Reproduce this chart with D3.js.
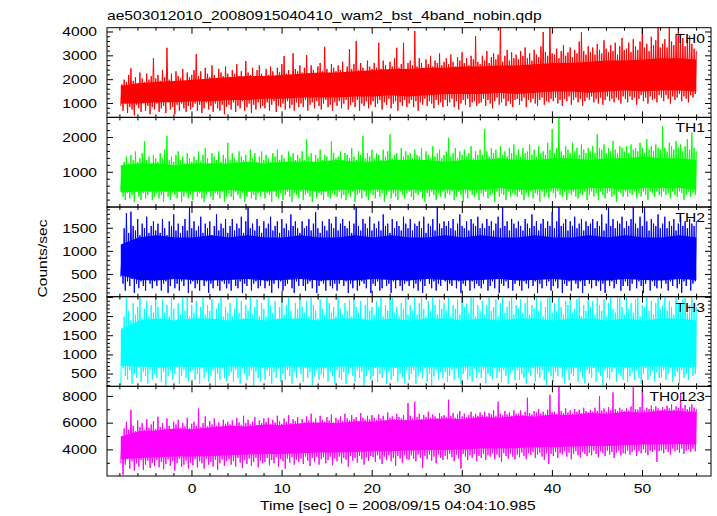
<!DOCTYPE html>
<html><head><meta charset="utf-8">
<script src="https://cdn.jsdelivr.net/npm/d3@7"></script>
<style>
body{margin:0;background:#fff}
svg{display:block}
text{font-family:"Liberation Sans",Arial,Helvetica,sans-serif;font-size:12.5px;fill:#000}
</style>
</head><body>
<svg id="chart" width="717" height="516"></svg>
<script>
// ---------------- data ----------------
const title = "ae503012010_20080915040410_wam2_bst_4band_nobin.qdp";
const xLabel = "Time [sec] 0 = 2008/09/15 04:04:10.985";
const yLabel = "Counts/sec";
const seriesNames = ["TH0", "TH1", "TH2", "TH3", "TH0123"];
const seriesColors = ["#ff0000", "#00ff00", "#0000ff", "#00ffff", "#ff00ff"];

const xDomain = [-9.43, 57.6];
const xMajorTicks = [0, 10, 20, 30, 40, 50];
const xMinorStep = 2;

const yDomains = [[420, 4180], [0, 2580], [18, 1960], [180, 2518], [2050, 8750]];
const yMajorTicks = [[1000, 2000, 3000, 4000], [1000, 2000], [500, 1000, 1500], [500, 1000, 1500, 2000, 2500], [4000, 6000, 8000]];
const yMinorSteps = [200, 200, 100, 100, 1000];

// quarter-second bins: bin i starts at binStart + i*binStep; lowest and highest rate in each bin
const binStart = -7.9, binStep = 0.25;
// densely filled middle of each light curve, read every 2 s
const coreStart = -7.9, coreStep = 2;

const th0Hi = [
 1800,2000,1900,2200,2480,1950,2100,1850,2300,2050,1900,2250,2000,2150,2900,2050,
 2200,1950,2400,2100,3340,2000,2250,1900,2350,2150,2050,2450,1950,2300,2100,2200,
 2400,3070,2150,2350,2000,2500,2250,2100,2600,2200,2050,2450,2300,2150,2550,2250,
 2100,2400,2250,2650,2150,2350,2050,2780,2300,2200,2500,2100,2400,2600,2250,2150,
 2450,2200,2550,2350,2150,2500,2300,2650,2990,2250,2400,2200,3110,2450,2350,2600,
 2300,2500,3030,2250,2600,2400,2200,2550,2700,2350,3380,2450,2250,2650,2500,2350,
 2600,2400,2750,2300,2550,3280,2450,2650,3620,2400,2700,2500,2350,2800,2550,2450,
 2700,2500,3550,2450,2800,2600,2400,2750,2550,2900,3340,2500,2650,3550,2450,2700,
 2800,2600,4040,2550,2900,2700,2450,2850,2650,3000,2550,2800,2700,3100,2600,2750,
 2900,2650,3050,2750,2550,2950,2800,3150,2700,2900,2600,3000,2850,3830,2750,2650,
 3000,2800,3200,2700,2950,3100,2850,3050,4300,2750,3000,3250,2800,3150,2900,3050,
 2850,3200,3000,3350,2900,3100,2800,3250,3050,2950,3400,4000,3150,3000,4300,3100,
 3050,3300,2900,3200,3450,3000,3150,3350,2950,3250,3100,3600,4000,3200,3050,3400,
 3150,3350,3050,3500,3250,3100,3650,3300,3150,3450,3200,3550,3050,3400,3750,3250,
 3300,3550,3150,3700,3400,3250,3600,4300,3350,3500,3200,3800,3450,3650,4300,3350,
 3500,3700,3350,4300,3600,3450,3900,4300,3550,3750,3400,3650,3850,3500,3300,3200];
const th0Lo = [
 900,700,1000,600,850,750,500,950,800,650,1050,700,900,550,850,750,
 1000,650,800,900,600,1050,750,850,550,950,700,1000,800,650,900,750,
 850,1000,700,950,600,800,1050,750,900,650,1000,800,700,950,550,850,
 950,750,1050,650,900,800,1100,700,850,1000,600,950,750,1050,800,900,
 800,1050,700,950,1100,650,900,850,1000,750,1100,800,950,700,1050,850,
 1000,850,1150,700,950,1050,800,1100,900,750,1000,1150,850,950,700,1050,
 900,1100,800,1000,1150,750,950,1050,850,1150,700,1000,900,1100,800,950,
 1100,850,1000,1150,750,1050,950,1200,800,1000,1100,700,1050,900,1150,850,
 1000,1150,850,1100,700,1050,950,1200,900,1100,1000,800,1150,950,1050,850,
 1150,900,1050,1200,850,1100,750,1000,1150,950,1200,850,1050,1100,900,1000,
 1050,1200,900,1150,1000,800,1100,1250,950,1050,1200,900,1100,1000,850,1150,
 1200,950,1100,1250,850,1150,1050,1200,1000,900,1150,1250,950,1100,1050,1200,
 1100,1250,1000,1150,900,1200,1100,1300,950,1150,1250,1050,1200,900,1100,1250,
 1150,1300,1050,1200,1000,1250,950,1150,1300,1100,1200,1050,1250,1150,1000,1300,
 1200,1050,1300,1150,1250,950,1200,1350,1100,1250,1000,1300,1150,1200,1050,1350,
 1250,1100,1350,1200,1000,1300,1150,1250,1400,1100,1300,1200,1050,1350,1250,1400];
const th0CoreHi = [1750,1850,1900,1950,2000,2050,2100,2150,2150,2200,2250,2300,2300,2350,2400,2450,2450,2500,2500,2550,2550,2600,2600,2650,2700,2700,2750,2800,2800,2850,2900,2900,2850];
const th0CoreLo = [1000,1000,1050,1050,1100,1100,1150,1150,1200,1200,1250,1250,1250,1300,1300,1350,1300,1350,1400,1400,1400,1450,1400,1450,1500,1500,1450,1500,1550,1500,1550,1550,1500];

const th1Hi = [
 1100,1300,1450,1250,1500,1350,1600,1300,1400,1550,1890,1350,1450,1250,1500,1400,
 1300,1550,1400,1650,2040,1350,1450,1300,1500,1600,1350,1450,1250,1550,1400,1300,
 1450,1350,1600,1300,1500,1700,1400,1250,1550,1450,1350,1600,1300,1500,1400,1850,
 1350,1550,1400,1300,1600,1450,1350,1500,1250,1650,1400,1550,1300,1450,1600,1350,
 1500,1400,1300,1550,1450,1650,1350,1500,1400,1300,1600,1450,1550,1350,1500,1400,
 1600,1350,1950,1450,1550,1300,1500,1400,1650,1350,1500,1450,1300,1890,1550,1400,
 1450,1600,1350,1550,1500,1400,1700,1450,1350,1600,1500,2040,1400,1550,1450,1650,
 1400,1550,1500,1350,1650,1450,1600,2090,1400,1500,1550,1350,1700,1450,1600,1500,
 1550,1400,1650,1500,1450,1700,1350,1600,1500,1400,1750,1450,1550,1650,1400,1500,
 1600,1990,1450,1550,1700,1400,1600,1500,1650,1450,1550,1750,1400,1600,1500,1650,
 1500,2240,1600,1450,1700,1550,1650,1400,1750,1500,1600,1450,1700,1550,1800,1500,
 1650,1450,1700,1550,1600,1800,1500,1650,1450,1750,1550,1600,1500,1850,1650,2240,
 1550,1700,2560,1600,1500,1750,1650,1550,1850,1600,1700,1500,1800,1650,1550,1700,
 1600,1750,1550,2090,1700,1650,1800,1550,1700,1600,1900,1650,1550,1750,1700,1600,
 1750,1550,1800,1650,1700,1600,1850,1700,1550,1950,1650,1750,1600,1800,1700,1650,
 2330,1700,1600,1850,1750,1650,1900,1700,1800,1600,1750,1950,1650,2140,1700,1600];
const th1Lo = [
 450,300,200,400,250,350,150,450,300,200,400,250,350,450,200,300,
 400,250,350,150,450,300,200,400,350,250,450,150,300,400,250,350,
 200,450,300,400,250,150,350,450,300,200,400,350,250,450,150,300,
 400,300,200,450,350,250,400,150,300,450,250,350,200,400,300,450,
 250,400,350,150,450,300,250,400,200,350,450,300,150,400,350,250,
 450,200,350,400,300,150,450,250,400,350,200,450,300,250,400,350,
 300,450,250,350,200,400,300,450,150,350,400,250,450,300,200,400,
 350,250,450,300,400,150,350,450,250,400,300,200,450,350,250,400,
 450,300,200,400,350,450,250,150,400,300,450,350,200,400,300,450,
 250,400,350,450,200,300,450,350,150,400,250,450,350,300,400,200,
 400,300,450,250,350,400,150,450,300,400,350,200,450,300,400,350,
 300,450,350,200,400,300,450,250,400,350,150,450,300,400,250,450,
 400,250,450,350,300,450,200,400,350,450,300,250,400,350,450,200,
 350,450,300,400,200,450,350,250,400,450,300,350,150,450,400,300,
 450,300,400,350,450,250,400,300,450,350,200,450,400,300,450,350,
 300,450,350,400,250,450,350,300,450,400,200,350,450,300,400,350];
const th1CoreHi = [1200,1250,1250,1200,1250,1250,1250,1300,1250,1300,1300,1300,1350,1300,1300,1350,1350,1350,1300,1350,1350,1400,1350,1350,1400,1400,1350,1400,1400,1450,1400,1400,1350];
const th1CoreLo = [420,450,450,450,450,450,500,450,450,500,500,450,500,500,500,500,500,500,500,500,500,550,500,500,550,500,550,550,500,550,550,550,500];

const th2Hi = [
 900,1500,1830,1400,1860,1550,1450,1700,1350,1600,1500,1750,1400,1550,1650,1450,
 1600,1400,1700,1500,1350,1650,1550,1800,1450,1600,1400,1550,1700,1450,2000,1500,
 1650,1450,1550,1750,1400,1600,1500,1650,1350,1550,1800,1450,1600,1500,1700,1400,
 1550,1700,1450,1600,1500,1750,1400,1650,2000,1500,1600,1450,1700,1550,1400,1650,
 1500,1600,1750,1450,1550,1650,1400,1700,1500,1600,1450,1800,1550,1650,1500,1400,
 1650,1500,1550,1700,1450,1600,1850,1500,1400,1650,1550,1450,1700,1600,1500,1750,
 1450,1600,1700,1550,1500,1650,1400,1600,2000,1550,1450,1700,1600,1500,1750,1450,
 1600,1500,1650,1450,1800,1550,1600,1400,1700,1500,1650,1550,1450,1750,1600,1500,
 1700,1450,1600,1550,1650,1500,1750,1400,1600,1550,1700,1450,2000,1600,1500,1650,
 1550,1650,1500,1700,1450,1600,1800,1550,1500,1650,1450,1700,1600,1550,1750,1500,
 1600,1500,1700,1550,1650,1450,1600,1750,1500,2000,1550,1650,1450,1700,1600,1500,
 1650,1550,1450,1700,1600,1500,1800,1550,1650,1450,1600,1700,1500,1650,1550,1850,
 1500,1650,2000,1550,1600,1700,1450,1650,1550,1750,1500,1600,1700,1450,1650,1550,
 1600,1700,1500,1650,1550,1800,1450,1600,2000,1550,1700,1500,1650,1600,1750,1500,
 1650,1550,1700,2000,1600,1500,1750,1550,2000,1650,1450,1700,1600,1550,1800,1500,
 1600,1750,1500,1650,1550,1700,1450,1600,1750,1550,1650,1500,1700,1600,1550,1650];
const th2Lo = [
 450,300,150,350,250,400,100,300,200,350,250,150,400,300,200,350,
 250,400,150,300,350,100,250,400,200,300,150,350,250,400,100,300,
 350,200,300,150,400,250,350,100,300,200,400,250,150,350,300,200,
 300,150,400,250,200,350,100,300,250,400,150,300,350,200,250,400,
 200,350,250,100,300,400,200,350,150,250,300,400,200,100,350,250,
 400,250,150,300,350,200,400,100,250,350,300,150,400,250,200,300,
 150,300,400,250,350,100,300,200,400,150,250,350,300,200,400,100,
 300,250,350,150,200,400,250,300,100,350,200,400,250,150,300,350,
 250,400,200,300,150,350,100,250,400,300,200,350,150,300,250,400,
 350,150,300,250,400,200,350,100,300,250,400,150,350,200,300,250,
 200,300,400,150,250,350,200,400,100,300,250,350,200,400,150,300,
 400,250,150,350,300,200,400,250,350,100,300,200,400,250,350,150,
 250,350,200,400,100,300,250,350,150,400,300,200,350,100,250,400,
 300,200,400,250,350,150,300,100,400,250,350,200,300,400,150,250,
 350,250,150,300,400,200,350,250,100,300,400,150,350,250,200,400,
 200,400,300,150,350,250,400,200,300,100,350,250,400,150,300,350];
const th2CoreHi = [1150,1300,1350,1300,1300,1350,1300,1350,1300,1300,1350,1300,1300,1350,1300,1350,1300,1300,1350,1300,1350,1300,1300,1350,1300,1300,1350,1300,1350,1300,1300,1350,1300];
const th2CoreLo = [480,380,370,400,380,370,380,400,370,380,400,370,380,370,400,380,370,400,380,370,380,400,370,380,400,370,380,370,400,380,370,400,380];

const th3Hi = [
 1700,2000,2600,2150,1900,2350,2050,2250,2600,1950,2200,2400,2000,2300,2100,2600,
 2250,1950,2450,2100,2300,2000,2600,2200,1900,2350,2050,2500,2150,2600,2000,2300,
 2100,2400,1950,2250,2600,2050,2300,2150,2450,1900,2200,2350,2600,2000,2250,2100,
 2350,2000,2200,2600,2100,2400,1950,2300,2150,2600,2050,2250,2450,2000,2350,2200,
 2000,2600,2300,2100,2400,1950,2250,2500,2050,2300,2600,2150,1900,2350,2200,2450,
 2250,2100,2400,2000,2600,2300,2150,1950,2450,2200,2050,2600,2350,2100,2250,2000,
 2600,2200,2050,2350,2150,2450,2000,2600,2250,2100,2400,1950,2300,2600,2150,2250,
 2050,2400,2250,2600,2000,2300,2150,2450,2600,2100,2250,2000,2350,2200,2600,2050,
 2300,2150,2500,2050,2350,2600,2200,2000,2400,2150,2600,2300,2050,2450,2200,2350,
 2150,2600,2000,2300,2200,2450,2050,2600,2250,2350,2100,2500,2600,2000,2300,2150,
 2400,2050,2300,2600,2150,2250,2450,2000,2350,2600,2100,2250,2400,2600,2050,2300,
 2200,2450,2100,2350,2600,2050,2300,2200,2600,2150,2400,2000,2250,2500,2600,2100,
 2350,2150,2600,2250,2050,2400,2300,2600,2100,2200,2450,2600,2000,2300,2150,2600,
 2250,2400,2050,2600,2300,2150,2450,2000,2350,2600,2200,2100,2500,2600,2250,2050,
 2600,2200,2350,2100,2450,2600,2000,2300,2250,2600,2150,2400,2050,2350,2600,2200,
 2300,2600,2150,2400,2250,2050,2600,2350,2200,2450,2600,2100,2300,2600,2150,2250];
const th3Lo = [
 200,650,450,350,600,250,500,400,700,300,550,450,250,600,350,500,
 400,650,300,550,200,450,600,350,500,700,250,450,600,400,300,550,
 600,350,500,250,650,400,550,300,450,600,200,500,350,650,400,300,
 450,550,300,600,400,250,650,500,350,450,600,200,550,400,300,650,
 350,600,450,250,550,400,650,300,500,350,600,450,250,550,400,700,
 500,300,650,400,550,200,450,600,350,500,400,650,300,550,450,250,
 600,400,350,550,250,500,650,450,300,600,400,550,200,450,600,350,
 450,650,300,500,400,600,250,550,350,450,650,300,500,400,250,600,
 350,500,600,250,450,550,400,650,300,500,200,450,600,350,550,400,
 550,300,450,600,350,650,400,250,500,600,350,450,300,650,400,550,
 400,600,250,500,450,350,650,400,550,300,600,450,250,500,600,350,
 600,350,500,400,250,550,450,650,300,500,400,600,350,200,550,450,
 300,550,450,650,400,250,600,350,500,450,650,300,550,400,250,600,
 500,400,650,300,550,450,200,600,400,350,550,650,300,500,450,350,
 650,300,450,550,350,600,400,250,500,650,350,450,600,300,550,400,
 400,600,350,500,650,300,450,550,250,600,400,500,350,650,450,500];
const th3CoreHi = [1650,1900,1950,1900,1950,1950,1900,1950,1900,1950,1950,1900,1950,1950,1900,1950,1900,1950,1950,1900,1950,1900,1950,1950,1900,1950,1950,1900,1950,1900,1950,1950,1900];
const th3CoreLo = [720,700,680,700,690,680,700,700,680,700,690,680,700,700,690,680,700,690,680,700,700,680,690,700,700,680,700,690,680,700,700,680,700];

const th0123Hi = [
 5000,5600,6100,5500,7000,5800,5400,6200,5700,6000,5500,6300,5650,5900,6150,5550,
 6480,5700,6000,5600,6350,5800,5550,6100,5900,6250,5650,6000,5750,6400,5600,5950,
 6100,5800,7080,5700,6000,6500,5750,6150,5900,6350,5800,6050,5700,6250,5950,6100,
 5900,6200,5800,6400,6050,5850,6550,6000,6250,5900,6100,6450,5850,6200,6000,6350,
 6100,6400,5950,6250,6050,6550,6150,5950,6350,6100,6600,6000,6300,6150,6450,5950,
 6300,6050,6500,6200,6700,6100,6350,6000,6550,6250,6100,6450,6200,6650,6050,6400,
 6250,6500,6150,6700,6350,6200,6600,6300,6450,6150,6750,6400,6250,6550,6300,6600,
 6400,6250,6650,6350,6550,6200,6800,6400,6500,6300,6700,6450,6350,6600,6250,7500,
 6550,6350,7600,6450,6700,6300,6600,6450,6850,6400,6650,6500,6350,6750,6500,6600,
 6450,7750,6550,6750,6400,6650,6900,6500,6700,6450,6600,6850,6500,6700,6550,6800,
 6600,6850,6500,6750,6650,6950,6550,7600,6700,6600,6900,6650,6800,6550,6950,6700,
 6700,6950,6600,6850,7900,6750,6650,6900,6800,7050,6700,6850,6650,7000,8120,6800,
 6850,6700,8800,6900,6750,7100,6800,6950,6700,7050,6850,7000,6750,7150,6900,6800,
 7000,6850,7150,6900,8000,6950,7100,6850,7200,6950,8300,7050,6900,7150,7000,6900,
 7100,6950,7250,8800,7050,7000,7200,8700,6950,7150,7050,7300,7000,7250,7100,6950,
 7200,7050,7300,7100,7400,7000,7250,7150,8270,7100,7350,7050,7200,7400,7150,7050];
const th0123Lo = [
 3000,2130,2900,3300,2600,3150,2450,3000,2750,3250,2500,2900,3200,2650,3050,2800,
 3250,2700,3100,2550,2950,3300,2800,3150,2450,3000,3350,2750,2900,3200,2600,3050,
 2850,3300,2700,3150,3000,2600,3350,2900,3100,2750,3250,2500,3000,3300,2800,3150,
 3300,2900,3150,2750,3400,3050,2650,3250,2950,3350,2800,3100,3400,2700,3200,3000,
 3100,3400,2850,3250,3000,3450,2750,3300,3150,2600,3350,3050,3450,2900,3250,3100,
 3350,2950,3500,3200,2800,3400,3100,3500,2900,3300,3450,3000,3250,3500,2850,3350,
 3150,3500,3000,3400,3250,2750,3550,3200,3400,3050,3550,3300,2900,3450,3200,3550,
 3450,3100,3600,3300,2950,3500,3250,3600,3150,3400,2800,3550,3350,3050,3600,3300,
 3250,3600,3350,3150,3650,3400,2650,3550,3300,3650,3200,3500,3000,3650,3400,3250,
 3550,3300,3700,3450,3150,3650,3350,2600,3700,3500,3250,3600,3400,3700,3150,3550,
 3400,3700,3250,3600,3500,3750,3300,3650,3450,3100,3750,3550,3350,3700,3500,3300,
 3650,3450,3800,3550,3300,3750,3600,3850,3400,3650,3800,3500,3250,3750,2950,3700,
 3550,3850,3400,3750,3650,3900,3500,3800,3300,3700,3900,3600,3450,3850,3700,3550,
 3800,3600,3950,3700,3450,3900,3750,3550,3950,3650,3850,3400,3800,3950,3600,3750,
 3700,3950,3650,3850,4000,3550,3900,3750,4050,3800,3600,3950,3850,4000,3100,3900,
 3950,3750,4050,3850,3650,4100,3900,4000,3800,4100,3700,3950,4050,3850,4100,3900];
const th0123CoreHi = [5000,5400,5450,5600,5550,5700,5800,5750,5900,5850,6000,6050,6000,6150,6100,6250,6200,6300,6350,6300,6450,6400,6550,6500,6650,6600,6750,6700,6850,6800,6950,6900,6850];
const th0123CoreLo = [3300,3400,3450,3500,3500,3550,3600,3650,3700,3700,3750,3800,3800,3850,3900,3900,3950,4000,4000,4050,4100,4100,4150,4200,4200,4250,4300,4300,4350,4400,4400,4450,4400];

const seriesHi = [th0Hi, th1Hi, th2Hi, th3Hi, th0123Hi];
const seriesLo = [th0Lo, th1Lo, th2Lo, th3Lo, th0123Lo];
const coreHi = [th0CoreHi, th1CoreHi, th2CoreHi, th3CoreHi, th0123CoreHi];
const coreLo = [th0CoreLo, th1CoreLo, th2CoreLo, th3CoreLo, th0123CoreLo];

// ---------------- layout ----------------
const L = 107, R = 711, T = 27.7, B = 476;
const nP = seriesNames.length;
const pH = (B - T) / nP;
const MAJ = 6, MIN = 3;

const svg = d3.select("#chart");
const x = d3.scaleLinear().domain(xDomain).range([L, R]);

function label(g, px, py, s, anchor, rotate) {
  g.append("text")
    .attr("transform", `translate(${px},${py})${rotate ? " rotate(-90)" : ""} scale(1.25,1)`)
    .attr("text-anchor", anchor)
    .text(s);
}

const xMinor = d3.range(Math.ceil(xDomain[0] / xMinorStep) * xMinorStep, xDomain[1], xMinorStep)
  .filter(v => !xMajorTicks.includes(v));

seriesNames.forEach((name, p) => {
  const top = T + p * pH, bot = T + (p + 1) * pH;
  const y = d3.scaleLinear().domain(yDomains[p]).range([bot, top]);
  const g = svg.append("g");

  const clipId = "clip" + p;
  svg.append("clipPath").attr("id", clipId)
    .append("rect").attr("x", L).attr("y", top).attr("width", R - L).attr("height", bot - top);

  const dg = g.append("g").attr("clip-path", `url(#${clipId})`);

  // light curve: per bin, its low then its high
  const pts = [];
  seriesHi[p].forEach((h, i) => {
    const t0 = binStart + i * binStep;
    pts.push([t0, seriesLo[p][i]]);
    pts.push([t0 + binStep / 2, h]);
  });
  const tEnd = pts[pts.length - 1][0];
  dg.append("path").datum(pts)
    .attr("fill", "none")
    .attr("stroke", seriesColors[p])
    .attr("stroke-width", 1)
    .attr("d", d3.line().x(d => x(d[0])).y(d => y(d[1])));

  // densely overlapping middle
  const core = coreHi[p].map((h, k) => ({ t: Math.min(coreStart + k * coreStep, tEnd), lo: coreLo[p][k], hi: h }));
  dg.append("path").datum(core)
    .attr("fill", seriesColors[p])
    .attr("d", d3.area().x(d => x(d.t)).y0(d => y(d.lo)).y1(d => y(d.hi)));

  // frame
  g.append("rect").attr("x", L).attr("y", top).attr("width", R - L).attr("height", bot - top)
    .attr("fill", "none").attr("stroke", "#000").attr("stroke-width", 1);

  const tk = g.append("g").attr("stroke", "#000").attr("stroke-width", 1);
  xMajorTicks.concat(xMinor).forEach(v => {
    const len = xMajorTicks.includes(v) ? MAJ : MIN;
    const px = x(v);
    tk.append("line").attr("x1", px).attr("x2", px).attr("y1", bot).attr("y2", bot - len);
    tk.append("line").attr("x1", px).attr("x2", px).attr("y1", top).attr("y2", top + len);
  });
  const st = yMinorSteps[p];
  const yMinor = d3.range(Math.ceil(yDomains[p][0] / st) * st, yDomains[p][1], st)
    .filter(v => !yMajorTicks[p].includes(v));
  yMajorTicks[p].concat(yMinor).forEach(v => {
    const len = yMajorTicks[p].includes(v) ? MAJ : MIN;
    const py = y(v);
    tk.append("line").attr("x1", L).attr("x2", L + len).attr("y1", py).attr("y2", py);
    tk.append("line").attr("x1", R).attr("x2", R - len).attr("y1", py).attr("y2", py);
  });
  yMajorTicks[p].forEach(v => label(g, L - 10, y(v) + 4.3, String(v), "end", false));

  label(g, 705, top + 15, name, "end", false);

  if (p === nP - 1) {
    xMajorTicks.forEach(v => label(g, x(v), bot + 17, String(v), "middle", false));
  }
});

label(svg, L, 19.5, title, "start", false);
label(svg, 260, 510, xLabel, "start", false);
label(svg, 46.5, 258.5, yLabel, "middle", true);
</script>
</body></html>
